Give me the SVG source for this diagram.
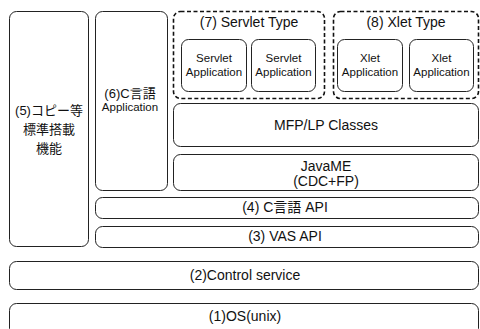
<svg xmlns="http://www.w3.org/2000/svg" width="480" height="329" viewBox="0 0 480 329">
<style>
.b{fill:#fff;stroke:#222;stroke-width:1}
.d{fill:none;stroke:#111;stroke-width:1.6;stroke-dasharray:4 2.5}
text{font-family:"Liberation Sans","Noto Sans CJK JP",sans-serif;fill:#111;text-anchor:middle}
.t{font-size:14px}
.j{font-size:13px}
.s{font-size:11.5px}
</style>
<rect width="480" height="329" fill="#fff"/>
<g id="n1"><rect class="b" x="9.5" y="303.5" width="469" height="32" rx="7"/><text class="t" x="245" y="321">(1)OS(unix)</text></g>
<g id="n2"><rect class="b" x="9.5" y="261.5" width="469" height="28" rx="7"/><text class="t" x="245" y="280">(2)Control service</text></g>
<g id="n3"><rect class="b" x="95.5" y="226.5" width="383" height="21" rx="7"/><text class="t" x="285" y="240.5">(3) VAS API</text></g>
<g id="n4"><rect class="b" x="95.5" y="197.5" width="383" height="21" rx="7"/><text class="t" x="285" y="211.5">(4) C言語 API</text></g>
<g id="n5"><rect class="b" x="9.5" y="11.5" width="79" height="235" rx="7"/><text class="j" x="49" y="115">(5)コピー等</text><text class="j" x="49" y="134">標準搭載</text><text class="j" x="49" y="153">機能</text></g>
<g id="n6"><rect class="b" x="95.5" y="11.5" width="72" height="179" rx="7"/><text class="j" x="130" y="98">(6)C言語</text><text class="s" x="130" y="111">Application</text></g>
<g id="n7"><rect class="d" x="173.5" y="11.5" width="151" height="87" rx="7"/><text class="t" x="249" y="27">(7) Servlet Type</text></g>
<g id="n7a"><rect class="b" x="181.5" y="39.5" width="65" height="52" rx="7"/><text class="s" x="214" y="62">Servlet</text><text class="s" x="214" y="76">Application</text></g>
<g id="n7b"><rect class="b" x="251.5" y="39.5" width="64" height="52" rx="7"/><text class="s" x="283.5" y="62">Servlet</text><text class="s" x="283.5" y="76">Application</text></g>
<g id="n8"><rect class="d" x="333.5" y="11.5" width="145" height="87" rx="7"/><text class="t" x="406" y="27">(8) Xlet Type</text></g>
<g id="n8a"><rect class="b" x="337.5" y="39.5" width="65" height="52" rx="7"/><text class="s" x="370" y="62">Xlet</text><text class="s" x="370" y="76">Application</text></g>
<g id="n8b"><rect class="b" x="409.5" y="39.5" width="64" height="52" rx="7"/><text class="s" x="441.5" y="62">Xlet</text><text class="s" x="441.5" y="76">Application</text></g>
<g id="n9"><rect class="b" x="173.5" y="103.5" width="305" height="43" rx="7"/><text class="t" x="326" y="130">MFP/LP Classes</text></g>
<g id="n10"><rect class="b" x="173.5" y="154.5" width="305" height="36" rx="7"/><text class="t" x="326" y="171">JavaME</text><text class="t" x="326" y="186">(CDC+FP)</text></g>
<g id="connectors"></g>
</svg>
